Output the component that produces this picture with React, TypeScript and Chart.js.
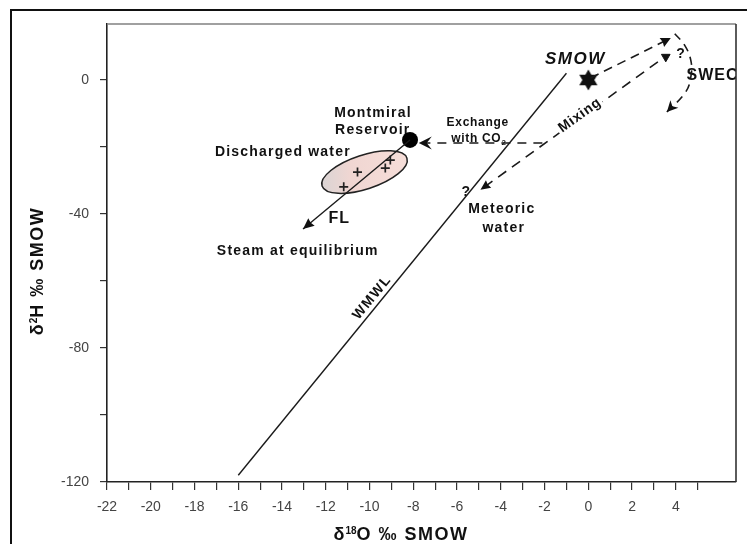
import { useEffect, useRef } from 'react';
import { Chart, registerables } from 'chart.js';

Chart.register(...registerables);

// ---------- axis ranges & ticks ----------
const xRange = [-22, 6.75];
const yRange = [-120, 16.7];
const xTickLabels = [-22, -20, -18, -16, -14, -12, -10, -8, -6, -4, -2, 0, 2, 4];
const yTickLabels = [-120, -80, -40, 0];
const xLastTick = 5;

// ---------- series ----------
const wmwlLine = [{ x: -16, y: -118 }, { x: -1, y: 2 }];
const flLine = [{ x: -8.15, y: -17.9 }, { x: -13.04, y: -44.5 }];
const dischargedWater = [
  { x: -11.18, y: -31.9 },
  { x: -10.55, y: -27.5 },
  { x: -9.28, y: -26.3 },
  { x: -9.05, y: -23.9 },
];
const reservoir = [{ x: -8.15, y: -17.9 }];
const smow = [{ x: 0, y: 0 }];
const evaporationLine = [{ x: 0.1, y: 0.6 }, { x: 3.77, y: 12.5 }];
const swecCurve = [
  { x: 3.95, y: 13.8 },
  { x: 4.4, y: 10.4 },
  { x: 4.68, y: 6.0 },
  { x: 4.7, y: 1.5 },
  { x: 4.45, y: -3.6 },
  { x: 3.59, y: -9.55 },
];
const swecMarker = [{ x: 3.54, y: 6.9 }];
const mixingLine = [{ x: 3.18, y: 5.4 }, { x: -4.93, y: -32.8 }];
const exchangeLine = [{ x: -2.1, y: -18.8 }, { x: -7.75, y: -18.8 }];
const ellipseCenter = { x: -10.23, y: -27.5 };
const ellipseAxisEnd = { x: -8.29, y: -23.35 };

// ---------- annotation anchors (data coordinates) ----------
const annotations = [
  { key: 'smow', text: 'SMOW', x: -0.63, y: 6.3 },
  { key: 'b14', text: 'Montmiral', x: -9.87, y: -9.85 },
  { key: 'b14', text: 'Reservoir', x: -9.88, y: -14.9 },
  { key: 'b14', text: 'Discharged water', x: -13.99, y: -21.5 },
  { key: 'fl', text: 'FL', x: -11.41, y: -41.5 },
  { key: 'b14', text: 'Steam at equilibrium', x: -13.31, y: -51.0 },
  { key: 'b12', text: 'Exchange', x: -5.07, y: -12.8 },
  { key: 'b14', text: 'Meteoric', x: -3.98, y: -38.5 },
  { key: 'b14', text: 'water', x: -3.89, y: -44.2 },
  { key: 'q', text: '?', x: -5.6, y: -33.6 },
  { key: 'q', text: '?', x: 4.21, y: 7.8 },
];
const co2Anchor = { x: -5.02, y: -17.3 };
const swecAnchor = { x: 4.49, y: 1.2 };
const wmwlAnchor = { x: -9.9, y: -65.1 };
const mixingAnchor = { x: -0.4, y: -10.6 };

const FONT = '"Liberation Sans", Arial, sans-serif';

function makeStar(): HTMLCanvasElement {
  const c = document.createElement('canvas');
  c.width = 24;
  c.height = 24;
  const g = c.getContext('2d')!;
  g.beginPath();
  for (let i = 0; i < 12; i++) {
    const r = i % 2 === 0 ? 10.5 : 6;
    const a = -Math.PI / 2 + (i * Math.PI) / 6;
    g.lineTo(12 + r * Math.cos(a), 12 + r * Math.sin(a));
  }
  g.closePath();
  g.fillStyle = '#111';
  g.fill();
  return c;
}

function drawText(ctx: any, text: string, x: number, y: number, font: string, spacing = 0, align = 'center', rot = 0) {
  ctx.save();
  ctx.translate(x, y);
  if (rot) ctx.rotate(rot);
  ctx.font = font;
  ctx.letterSpacing = spacing + 'px';
  ctx.textAlign = align;
  ctx.textBaseline = 'middle';
  ctx.fillStyle = '#111';
  ctx.fillText(text, align === 'center' ? spacing / 2 : 0, 0);
  ctx.restore();
}

function drawRich(ctx: any, parts: any[], cx: number, cy: number, rot = 0) {
  ctx.save();
  ctx.translate(cx, cy);
  if (rot) ctx.rotate(rot);
  ctx.textAlign = 'left';
  ctx.textBaseline = 'alphabetic';
  ctx.fillStyle = '#111';
  let total = 0;
  const widths = parts.map((p) => {
    ctx.font = p.font;
    ctx.letterSpacing = (p.sp || 0) + 'px';
    const w = ctx.measureText(p.t).width;
    total += w;
    return w;
  });
  let x = -total / 2;
  parts.forEach((p, i) => {
    ctx.font = p.font;
    ctx.letterSpacing = (p.sp || 0) + 'px';
    ctx.fillText(p.t, x, p.dy);
    x += widths[i];
  });
  ctx.restore();
}

const styleFor: Record<string, { font: string; sp: number }> = {
  smow: { font: `italic bold 17px ${FONT}`, sp: 1.5 },
  b14: { font: `bold 14px ${FONT}`, sp: 1.2 },
  b12: { font: `bold 12px ${FONT}`, sp: 0.7 },
  fl: { font: `bold 16px ${FONT}`, sp: 1 },
  q: { font: `bold 14px ${FONT}`, sp: 0 },
};

const annotationPlugin = {
  id: 'annotationPlugin',
  beforeDraw(chart: any) {
    const ctx = chart.ctx;
    ctx.save();
    ctx.strokeStyle = '#111';
    ctx.lineWidth = 2;
    ctx.beginPath();
    ctx.moveTo(11, 544);
    ctx.lineTo(11, 10);
    ctx.lineTo(747, 10);
    ctx.stroke();
    ctx.restore();
  },
  beforeDatasetsDraw(chart: any) {
    const ctx = chart.ctx;
    const xs = chart.scales.x;
    const ys = chart.scales.y;
    const px = (p: any) => [xs.getPixelForValue(p.x), ys.getPixelForValue(p.y)];

    // ellipse around discharged water
    const [cx, cy] = px(ellipseCenter);
    const [ex, ey] = px(ellipseAxisEnd);
    const a = Math.hypot(ex - cx, ey - cy);
    const ang = Math.atan2(ey - cy, ex - cx);
    const b = a * 0.38;
    ctx.save();
    ctx.beginPath();
    ctx.ellipse(cx, cy, a, b, ang, 0, Math.PI * 2);
    const grad = ctx.createLinearGradient(cx - a, cy, cx + a, cy);
    grad.addColorStop(0, '#d9d4d4');
    grad.addColorStop(0.35, '#f0d6d2');
    grad.addColorStop(1, '#f6ded9');
    ctx.fillStyle = grad;
    ctx.fill();
    ctx.lineWidth = 1.5;
    ctx.strokeStyle = '#222';
    ctx.stroke();
    ctx.restore();

    // text annotations
    annotations.forEach((l) => {
      const [x, y] = px(l);
      const st = styleFor[l.key];
      drawText(ctx, l.text, x, y, st.font, st.sp);
    });

    // with CO2
    {
      const [x, y] = px(co2Anchor);
      drawRich(ctx, [
        { t: 'with CO', font: `bold 12px ${FONT}`, sp: 0.7, dy: 4.5 },
        { t: '2', font: `bold 8px ${FONT}`, sp: 0, dy: 7 },
      ], x, y);
    }

    // SWEC (clipped to plot area)
    {
      const [x, y] = px(swecAnchor);
      ctx.save();
      const ca = chart.chartArea;
      ctx.beginPath();
      ctx.rect(ca.left, ca.top, ca.right - ca.left, ca.bottom - ca.top);
      ctx.clip();
      drawText(ctx, 'SWEC', x, y, `bold 16px ${FONT}`, 1, 'left');
      ctx.restore();
    }

    // WMWL rotated along the line
    {
      const [x0, y0] = px(wmwlLine[0]);
      const [x1, y1] = px(wmwlLine[1]);
      const rot = Math.atan2(y1 - y0, x1 - x0);
      const [x, y] = px(wmwlAnchor);
      drawText(ctx, 'WMWL', x, y, `bold 14px ${FONT}`, 1.5, 'center', rot);
    }
  },
  afterDatasetsDraw(chart: any) {
    const ctx = chart.ctx;
    const xs = chart.scales.x;
    const ys = chart.scales.y;
    const px = (p: any) => [xs.getPixelForValue(p.x), ys.getPixelForValue(p.y)];

    // arrowheads
    chart.data.datasets.forEach((ds: any, i: number) => {
      const ar = ds.arrow;
      if (!ar) return;
      const pts = chart.getDatasetMeta(i).data;
      const p1 = pts[pts.length - 1];
      const p0 = pts[pts.length - 2];
      let bx = p0.x;
      let by = p0.y;
      if (p1.cp1x !== undefined && Math.hypot(p1.cp1x - p1.x, p1.cp1y - p1.y) > 1) {
        bx = p1.cp1x;
        by = p1.cp1y;
      }
      const dx = p1.x - bx;
      const dy = p1.y - by;
      const d = Math.hypot(dx, dy);
      const ux = dx / d;
      const uy = dy / d;
      const nx = -uy;
      const ny = ux;
      const tx = p1.x;
      const ty = p1.y;
      ctx.save();
      ctx.fillStyle = '#111';
      ctx.beginPath();
      ctx.moveTo(tx, ty);
      ctx.lineTo(tx - ux * ar.len + nx * ar.half, ty - uy * ar.len + ny * ar.half);
      ctx.lineTo(tx - ux * (ar.len - ar.notch), ty - uy * (ar.len - ar.notch));
      ctx.lineTo(tx - ux * ar.len - nx * ar.half, ty - uy * ar.len - ny * ar.half);
      ctx.closePath();
      ctx.fill();
      ctx.restore();
    });

    // Mixing label with white background
    {
      const [x0, y0] = px(mixingLine[1]);
      const [x1, y1] = px(mixingLine[0]);
      const rot = Math.atan2(y1 - y0, x1 - x0);
      const [x, y] = px(mixingAnchor);
      ctx.save();
      ctx.translate(x, y);
      ctx.rotate(rot);
      ctx.font = `bold 14px ${FONT}`;
      ctx.letterSpacing = '0.8px';
      const w = ctx.measureText('Mixing').width;
      ctx.fillStyle = '#fff';
      ctx.fillRect(-w / 2 - 2, -8, w + 4, 15);
      ctx.restore();
      drawText(ctx, 'Mixing', x, y, `bold 14px ${FONT}`, 0.8, 'center', rot);
    }

    // plot frame top/right
    const ca = chart.chartArea;
    ctx.save();
    ctx.lineWidth = 1.6;
    ctx.strokeStyle = '#808080';
    ctx.beginPath();
    ctx.moveTo(ca.left, ca.top);
    ctx.lineTo(ca.right, ca.top);
    ctx.stroke();
    ctx.strokeStyle = '#333';
    ctx.beginPath();
    ctx.moveTo(ca.right, ca.top);
    ctx.lineTo(ca.right, ca.bottom);
    ctx.stroke();
    ctx.restore();
  },
  afterDraw(chart: any) {
    const ctx = chart.ctx;
    // axis titles
    drawRich(ctx, [
      { t: 'δ', font: `bold 18px ${FONT}`, sp: 1, dy: 6.5 },
      { t: '18', font: `bold 10px ${FONT}`, sp: 0, dy: 0.5 },
      { t: 'O ‰ SMOW', font: `bold 18px ${FONT}`, sp: 1.5, dy: 6.5 },
    ], 401, 533);
    drawRich(ctx, [
      { t: 'δ', font: `bold 18px ${FONT}`, sp: 1, dy: 6.5 },
      { t: '2', font: `bold 10px ${FONT}`, sp: 0, dy: 0.5 },
      { t: 'H ‰ SMOW', font: `bold 18px ${FONT}`, sp: 1.5, dy: 6.5 },
    ], 36, 271, -Math.PI / 2);
  },
};

export default function App() {
  const ref = useRef<HTMLCanvasElement>(null);

  useEffect(() => {
    document.body.style.margin = '0';
    const canvas = ref.current!;
    const lineBase = {
      showLine: true,
      pointRadius: 0,
      pointHoverRadius: 0,
      borderColor: '#1a1a1a',
      fill: false,
    };
    const chart = new Chart(canvas, {
      type: 'scatter',
      data: {
        datasets: [
          { ...lineBase, data: wmwlLine, borderWidth: 1.4 },
          { ...lineBase, data: flLine, borderWidth: 1.4, arrow: { len: 11, half: 5, notch: 1 } },
          { ...lineBase, data: evaporationLine, borderWidth: 1.6, borderDash: [9, 6], arrow: { len: 10, half: 5, notch: 1 } },
          { ...lineBase, data: swecCurve, borderWidth: 1.6, borderDash: [8, 6], tension: 0.4, arrow: { len: 11, half: 5.5, notch: 3 } },
          { ...lineBase, data: mixingLine, borderWidth: 1.6, borderDash: [10, 7], arrow: { len: 10, half: 4.5, notch: 1 } },
          { ...lineBase, data: exchangeLine, borderWidth: 1.6, borderDash: [9, 7], arrow: { len: 13, half: 6.5, notch: 5 } },
          {
            data: dischargedWater,
            pointStyle: 'cross',
            pointRadius: 4.5,
            pointBorderWidth: 1.7,
            pointBorderColor: '#222',
            pointBackgroundColor: '#222',
          },
          {
            data: swecMarker,
            pointStyle: 'triangle',
            pointRotation: 180,
            pointRadius: 5,
            pointBorderWidth: 1,
            pointBorderColor: '#111',
            pointBackgroundColor: '#111',
          },
          {
            data: reservoir,
            pointStyle: 'circle',
            pointRadius: 8,
            pointBorderWidth: 0,
            pointBorderColor: '#000',
            pointBackgroundColor: '#000',
          },
          {
            data: smow,
            pointStyle: makeStar(),
            pointRadius: 10,
          },
        ] as any,
      },
      options: {
        responsive: false,
        animation: false,
        devicePixelRatio: 1,
        events: [],
        layout: { padding: { left: 0, top: 24, right: 5, bottom: 0 } },
        plugins: {
          legend: { display: false },
          tooltip: { enabled: false },
        },
        scales: {
          x: {
            type: 'linear',
            min: xRange[0],
            max: xRange[1],
            afterFit: (s: any) => {
              s.height = 62;
            },
            afterBuildTicks: (s: any) => {
              s.ticks = s.ticks.filter((t: any) => t.value <= xLastTick);
            },
            grid: { drawOnChartArea: false, drawTicks: true, tickLength: 8, color: '#333', lineWidth: 1.2 },
            border: { display: true, color: '#222', width: 1.6 },
            ticks: {
              stepSize: 1,
              includeBounds: false,
              autoSkip: false,
              maxRotation: 0,
              padding: 9,
              color: '#444',
              font: { family: FONT, size: 14 },
              callback: (v: any) => (xTickLabels.includes(Number(v)) ? String(v) : ''),
            },
          },
          y: {
            type: 'linear',
            min: yRange[0],
            max: yRange[1],
            afterFit: (s: any) => {
              s.width = 107;
            },
            grid: { drawOnChartArea: false, drawTicks: true, tickLength: 7, color: '#333', lineWidth: 1.2 },
            border: { display: true, color: '#222', width: 1.6 },
            ticks: {
              stepSize: 20,
              includeBounds: false,
              autoSkip: false,
              padding: 11,
              color: '#444',
              font: { family: FONT, size: 14 },
              callback: (v: any) => (yTickLabels.includes(Number(v)) ? String(v) : ''),
            },
          },
        },
      } as any,
      plugins: [annotationPlugin as any],
    });
    return () => chart.destroy();
  }, []);

  return (
    <canvas
      ref={ref}
      width={747}
      height={544}
      style={{ display: 'block', width: 747, height: 544 }}
    />
  );
}
